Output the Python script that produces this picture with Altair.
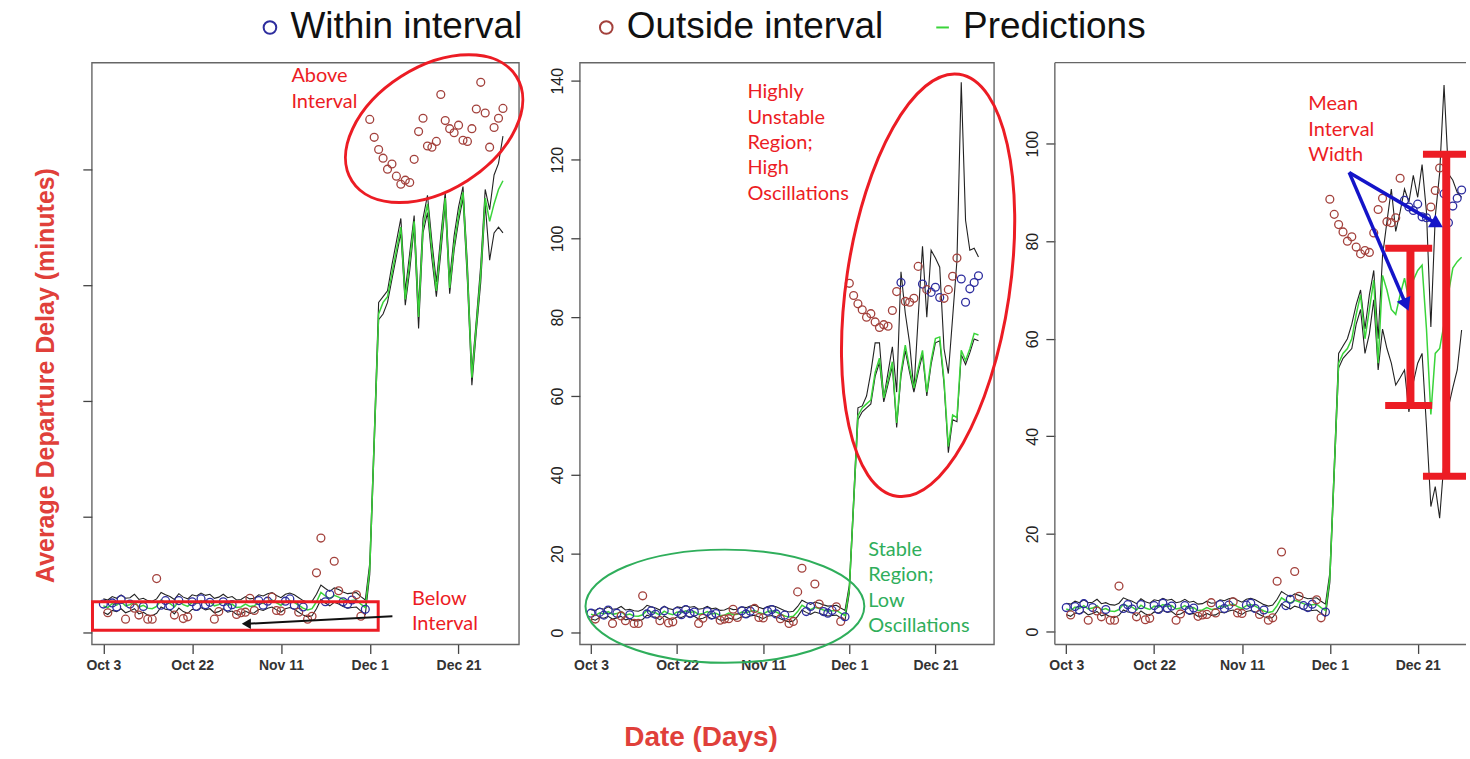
import altair as alt
import pandas as pd

# ---------------- data ----------------
tick_days = [0, 20, 40, 60, 80]
tick_labels = ["Oct 3", "Oct 22", "Nov 11", "Dec 1", "Dec 21"]
legend_labels = ["Within interval", "Outside interval", "Predictions"]

# observed average departure delay (days 0..90, Oct 3 .. Dec 31)
actual = [4.9, 3.4, 5.1, 4.4, 5.7, 2.3, 4.9, 4.2, 3.0, 4.5,
          2.3, 2.3, 9.3, 4.7, 5.5, 4.6, 3.0, 5.5, 2.4, 2.7,
          5.3, 4.5, 5.8, 4.8, 5.2, 2.3, 3.6, 5.3, 4.4, 4.8,
          3.1, 3.4, 3.5, 5.9, 3.8, 5.5, 4.7, 5.4, 6.1, 3.8,
          3.7, 5.4, 5.8, 4.7, 3.5, 4.4, 2.3, 2.8, 10.3, 16.3,
          5.3, 6.6, 12.3, 7.2, 5.3, 4.9, 5.6, 6.5, 2.8, 4.0,
          88.6, 85.5, 83.4, 81.9, 80.0, 80.9, 78.8, 77.4, 78.1, 77.7,
          81.7, 86.5, 88.8, 84.0, 83.8, 84.8, 92.9, 88.4, 87.0, 86.3,
          87.6, 85.0, 84.8, 87.0, 90.4, 95.0, 89.7, 83.8, 87.2, 88.8, 90.5]

outside_stable = [1, 5, 7, 8, 10, 11, 12, 16, 18, 19, 25, 26, 30, 31, 32, 33, 34,
                  38, 39, 40, 44, 46, 47, 48, 49, 52, 53, 57, 58]

pred_stable = [4.6, 4.3, 5.0, 4.7, 5.3, 4.6, 4.8, 5.3, 4.4, 4.7,
               4.2, 4.1, 4.5, 5.6, 5.2, 5.0, 4.4, 5.4, 4.8, 4.5,
               5.2, 5.0, 5.5, 5.1, 5.3, 4.6, 4.8, 5.3, 4.7, 4.9,
               4.3, 4.4, 4.9, 4.5, 4.6, 5.2, 5.0, 5.4, 5.6, 5.1,
               4.7, 5.3, 5.5, 5.2, 4.7, 4.2, 3.9, 4.1, 5.3, 6.9,
               6.3, 5.8, 6.4, 6.1, 5.7, 5.4, 5.5, 5.6, 4.9, 4.3]
upper_stable = [5.8, 5.6, 6.2, 5.9, 6.5, 5.9, 6.0, 6.6, 5.7, 5.9,
                5.5, 5.4, 5.8, 6.9, 6.5, 6.2, 5.7, 6.7, 6.1, 5.8,
                6.5, 6.3, 6.8, 6.4, 6.6, 5.9, 6.1, 6.6, 6.0, 6.2,
                5.6, 5.7, 6.2, 5.8, 5.9, 6.5, 6.3, 6.7, 6.9, 6.4,
                6.0, 6.6, 6.8, 6.5, 6.0, 5.5, 5.2, 5.4, 6.6, 8.2,
                7.6, 7.1, 7.7, 7.4, 7.0, 6.7, 6.8, 6.9, 6.2, 5.6]
lower_stable = [3.5, 3.1, 3.8, 3.6, 4.1, 3.4, 3.7, 4.1, 3.2, 3.5,
                3.0, 2.9, 3.3, 4.4, 4.0, 3.9, 3.2, 4.2, 3.6, 3.3,
                4.0, 3.8, 4.3, 3.9, 4.1, 3.4, 3.6, 4.1, 3.5, 3.7,
                3.1, 3.2, 3.7, 3.3, 3.4, 4.0, 3.8, 4.2, 4.4, 3.9,
                3.5, 4.1, 4.3, 4.0, 3.5, 3.0, 2.7, 2.9, 4.1, 5.7,
                5.1, 4.6, 5.2, 4.9, 4.5, 4.2, 4.3, 4.4, 3.7, 3.1]

# post Dec 1 (days 60..90)
p1_pred = [11, 33, 55, 57, 58, 62, 66, 70, 57.5, 64, 71, 54.5, 70, 74, 66, 59,
           67, 75, 59.5, 67, 72, 76, 62, 44, 53, 62, 75, 71, 74, 76.5, 78]
p1_upper = [12, 34, 57, 58, 59, 63.5, 67.5, 71.5, 59, 65.5, 72, 56, 71.5, 75.5, 67.5, 60.5,
            68.5, 76, 61, 68.5, 73.5, 77, 63.5, 45, 54, 63.5, 76.5, 73, 79, 81, 85.7]
p1_lower = [10, 32, 54, 55, 57, 61, 65, 69, 56.5, 62.5, 70, 52.5, 69, 72.5, 64.5, 58,
            65.5, 74, 58.5, 66, 71, 75, 60.5, 42.7, 52, 60.5, 74, 64.3, 69, 70, 69]
p1_within = []

p2_pred = [11, 33, 55, 57, 58, 59, 66, 69.6, 59.5, 64, 68.7, 53.2, 66, 72.9, 67, 62,
           67, 71.6, 61, 69, 74.6, 75, 64, 47.2, 55.2, 54.5, 71.6, 69, 72, 75.9, 75.5]
p2_upper = [12, 34, 57, 57.5, 60, 66, 73.5, 73.5, 59.5, 66, 72.5, 61, 91.5, 81, 73.5, 61.5,
            80, 98, 80, 97, 95, 92.7, 72, 65.7, 80, 94.4, 139.6, 104.6, 97, 97.5, 95.3]
p2_lower = [10, 32, 54, 56, 57, 58, 65, 68.5, 58.5, 63, 67.5, 52, 65, 71.5, 66, 61,
            66, 70.5, 60, 68, 73.5, 74, 63, 45.6, 54, 53.5, 70.5, 68, 71, 74.5, 74]
p2_within = [72, 77, 79, 80, 81, 86, 87, 88, 89, 90]

p3_pred = [11, 33, 55, 57, 58, 60, 65, 69, 60, 66, 72, 55, 73, 70, 66, 65,
           69, 72.4, 68, 72, 74, 75.1, 62, 44.5, 57, 58, 63, 69.3, 74.5, 75.8, 76.7]
p3_upper = [12, 34, 57, 58.5, 60, 63, 67, 70, 62, 69, 74, 60, 77, 84, 90.7, 82,
            86, 90.7, 88, 93.5, 89, 95.7, 86, 62.4, 85, 94, 112, 93.8, 92.5, 90, 89]
p3_lower = [10, 32, 54, 56, 57, 58, 63, 66, 57, 61, 68, 53.6, 62, 58, 55, 50.5,
            52, 53.6, 45, 51, 55, 57, 42, 25.6, 29.7, 23.2, 35, 46, 50, 53.6, 61.8]
p3_within = [77, 78, 79, 80, 81, 82, 86, 87, 88, 89, 90]


def make_df(pred_post, upper_post, lower_post, within_post):
    pred = pred_stable + pred_post
    upper = upper_stable + upper_post
    lower = lower_stable + lower_post
    status = []
    for d in range(len(actual)):
        if d < 60:
            status.append(legend_labels[1] if d in outside_stable else legend_labels[0])
        else:
            status.append(legend_labels[0] if d in within_post else legend_labels[1])
    return pd.DataFrame({"day": list(range(len(actual))), "actual": actual,
                         "status": status, "pred": pred, "upper": upper, "lower": lower})


df1 = make_df(p1_pred, p1_upper, p1_lower, p1_within)
df2 = make_df(p2_pred, p2_upper, p2_lower, p2_within)
df3 = make_df(p3_pred, p3_upper, p3_lower, p3_within)

# ---------------- styles ----------------
RED = "#ec1c24"
TITLE_RED = "#e0403a"
GREEN_ANN = "#2fae5b"
BLUE_ARROW = "#1414c8"
BLUE_PT = "#2d2d9e"
BROWN_PT = "#a3413c"
GREEN_LINE = "#3ad43a"
FRAME = "#666666"
H = 583
W1, W2, W3 = 428, 415, 412

label_expr = " : ".join(f"datum.value == {d} ? '{l}'" for d, l in zip(tick_days, tick_labels)) + " : ''"

cscale = alt.Scale(domain=legend_labels, range=[BLUE_PT, BROWN_PT, GREEN_LINE])
sscale = alt.Scale(domain=legend_labels, range=["circle", "circle", "M-1,0L1,0"])
leg = alt.Legend(orient="none", legendX=160, legendY=-54, direction="horizontal", title=None,
                 labelFontSize=37, labelFont="Liberation Sans", labelColor="#111", labelLimit=500,
                 symbolSize=160, symbolStrokeWidth=2, columnPadding=40, labelOffset=2,
                 gridAlign="all")


def ellipse_path(k):
    c = 0.5523
    return (f"M-1,0 C-1,{-c*k:.4f} {-c:.4f},{-k:.4f} 0,{-k:.4f} "
            f"C{c:.4f},{-k:.4f} 1,{-c*k:.4f} 1,0 "
            f"C1,{c*k:.4f} {c:.4f},{k:.4f} 0,{k:.4f} "
            f"C{-c:.4f},{k:.4f} -1,{c*k:.4f} -1,0 Z")


def xaxis(title=None, titleX=0, titleY=0):
    kw = dict(values=tick_days, labelExpr=label_expr, grid=False, domain=False, tickSize=9,
              tickWidth=1.3, tickColor="#444", labelFontSize=14, labelFont="Liberation Sans",
              labelFontWeight="bold", labelColor="#333", labelPadding=5)
    if title:
        kw.update(title=title, titleX=titleX, titleY=titleY, titleFontSize=28,
                  titleFont="Liberation Sans", titleFontWeight="bold", titleColor=TITLE_RED)
    else:
        kw.update(title=None)
    return alt.Axis(**kw)


def yaxis(values, labels=True, title=None):
    kw = dict(values=values, grid=False, domain=False, tickSize=9, tickWidth=1.3, tickColor="#444")
    if labels:
        kw.update(labelAngle=270, labelFontSize=16, labelFont="Liberation Sans",
                  labelColor="#222", labelPadding=5)
    else:
        kw.update(labels=False)
    if title:
        kw.update(title=title, titleFontSize=25, titleFont="Liberation Sans", titleFontWeight="bold",
                  titleColor=TITLE_RED, titlePadding=24, titleY=313)
    else:
        kw.update(title=None)
    return alt.Axis(**kw)


def build_panel(df, width, xdom, ydom, xax, yax, extra):
    X = lambda f: alt.X(f, type="quantitative", scale=alt.Scale(domain=xdom, nice=False, zero=False), axis=xax)
    Y = lambda f: alt.Y(f, type="quantitative", scale=alt.Scale(domain=ydom, nice=False, zero=False), axis=yax)
    base = alt.Chart(df)
    layers = [
        base.mark_line(color="#222", strokeWidth=1.1).encode(x=X("day"), y=Y("upper")),
        base.mark_line(color="#222", strokeWidth=1.1).encode(x=X("day"), y=Y("lower")),
        base.mark_line(color=GREEN_LINE, strokeWidth=1.5).encode(x=X("day"), y=Y("pred")),
        base.mark_point(filled=False, size=62, strokeWidth=1.3, opacity=1).encode(
            x=X("day"), y=Y("actual"),
            color=alt.Color("status:N", scale=cscale, legend=leg),
            shape=alt.Shape("status:N", scale=sscale, legend=leg)),
    ]
    layers += extra(X, Y)
    return alt.layer(*layers).properties(width=width, height=H)


def text_layer(X, Y, x, y, t, color):
    d = pd.DataFrame({"x": [x], "y": [y], "t": [t]})
    return alt.Chart(d).mark_text(align="left", baseline="alphabetic", font="Lato", fontSize=20,
                                  lineHeight=25.5, lineBreak="\n", color=color).encode(
        x=X("x"), y=Y("y"), text="t:N")


def ellipse_layer(X, Y, x, y, k, size, angle, color, sw):
    d = pd.DataFrame({"x": [x], "y": [y]})
    return alt.Chart(d).mark_point(shape=ellipse_path(k), size=size, angle=angle, filled=False,
                                   color=color, strokeWidth=sw, opacity=1).encode(x=X("x"), y=Y("y"))


def seg_layer(X, Y, x0, y0, x1, y1, color, sw):
    d = pd.DataFrame({"x0": [x0], "y0": [y0], "x1": [x1], "y1": [y1]})
    return alt.Chart(d).mark_rule(color=color, strokeWidth=sw, strokeCap="butt").encode(
        x=X("x0"), y=Y("y0"), x2="x1", y2="y1")


def head_layer(X, Y, x, y, shape, angle, size, color):
    d = pd.DataFrame({"x": [x], "y": [y]})
    return alt.Chart(d).mark_point(shape=shape, angle=angle, size=size, filled=True,
                                   color=color, opacity=1).encode(x=X("x"), y=Y("y"))


# ---------------- panel 1 ----------------
def extra1(X, Y):
    rect = alt.Chart(pd.DataFrame({"x0": [-2.45], "x1": [61.9], "y0": [0.39], "y1": [5.29]})).mark_rect(
        fillOpacity=0, stroke=RED, strokeWidth=3).encode(x=X("x0"), x2="x1", y=Y("y0"), y2="y1")
    return [
        rect,
        ellipse_layer(X, Y, 74.5, 87.0, 0.634, 38100, 327.5, RED, 3),
        seg_layer(X, Y, 65.1, 2.81, 32.4, 1.5, "#111", 2),
        head_layer(X, Y, 32.2, 1.5, "triangle-left", 0, 110, "#111"),
        text_layer(X, Y, 42.35, 95.0, "Above\nInterval", RED),
        text_layer(X, Y, 69.5, 4.82, "Below\nInterval", RED),
    ]


p1 = build_panel(df1, W1, [-2.6, 93.6], [-2.07, 98.4], xaxis(),
                 yaxis([0, 20, 40, 60, 80], labels=False, title="Average Departure Delay (minutes)"), extra1)


# ---------------- panel 2 ----------------
def extra2(X, Y):
    return [
        ellipse_layer(X, Y, 78.3, 88.1, 0.383, 182670, 278.4, RED, 3),
        ellipse_layer(X, Y, 31.1, 6.66, 0.406, 78064, 0, GREEN_ANN, 2),
        text_layer(X, Y, 36.35, 135.6, "Highly\nUnstable\nRegion;\nHigh\nOscillations", RED),
        text_layer(X, Y, 64.4, 19.5, "Stable\nRegion;\nLow\nOscillations", GREEN_ANN),
    ]


p2 = build_panel(df2, W2, [-2.6, 93.6], [-3.04, 144.6], xaxis("Date (Days)", 121, 79),
                 yaxis([0, 20, 40, 60, 80, 100, 120, 140]), extra2)


# ---------------- panel 3 ----------------
def extra3(X, Y):
    one = pd.DataFrame({"k": [0]})
    frame = [
        alt.Chart(one).mark_rule(color=FRAME, strokeWidth=1.4).encode(x=alt.value(0), x2=alt.value(W3), y=alt.value(0)),
        alt.Chart(one).mark_rule(color=FRAME, strokeWidth=1.4).encode(x=alt.value(0), x2=alt.value(W3), y=alt.value(H)),
        alt.Chart(one).mark_rule(color=FRAME, strokeWidth=1.4).encode(x=alt.value(0), y=alt.value(0), y2=alt.value(H)),
    ]
    return frame + [
        seg_layer(X, Y, 78.35, 46.3, 78.35, 78.56, RED, 8),
        seg_layer(X, Y, 72.6, 78.56, 83.3, 78.56, RED, 7),
        seg_layer(X, Y, 72.6, 46.3, 83.3, 46.3, RED, 7),
        seg_layer(X, Y, 86.5, 31.8, 86.5, 97.8, RED, 8),
        seg_layer(X, Y, 81.2, 97.8, 91.0, 97.8, RED, 7),
        seg_layer(X, Y, 81.2, 31.8, 91.0, 31.8, RED, 7),
        seg_layer(X, Y, 64.4, 94.1, 77.35, 66.96, BLUE_ARROW, 3.5),
        seg_layer(X, Y, 64.4, 94.1, 84.46, 83.5, BLUE_ARROW, 3.5),
        head_layer(X, Y, 77.35, 66.96, "triangle-right", 66.8, 220, BLUE_ARROW),
        head_layer(X, Y, 84.46, 83.5, "triangle-right", 30.5, 220, BLUE_ARROW),
        text_layer(X, Y, 55.1, 106.8, "Mean\nInterval\nWidth", RED),
    ]


p3 = build_panel(df3, W3, [-2.6, 91.0], [-2.66, 116.6], xaxis(),
                 yaxis([0, 20, 40, 60, 80, 100]), extra3).properties(
    view=alt.ViewBackground(strokeOpacity=0))

chart = alt.hconcat(p1, p2, p3, spacing=61, bounds="flush").properties(
    padding={"left": 32, "top": 8, "right": 0, "bottom": 0}
).configure_view(stroke=FRAME, strokeWidth=1.4)

chart.save("out.html", embed_options={"renderer": "svg", "actions": False})
